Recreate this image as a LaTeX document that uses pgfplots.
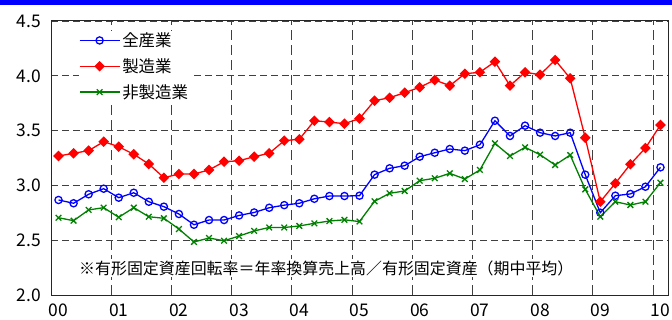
\documentclass[border=0pt]{standalone}
\usepackage{fontspec}
\setmainfont{Noto Sans CJK JP}
\usepackage{pgfplots}
\pgfplotsset{compat=1.18}
\definecolor{cblue}{RGB}{0,0,255}
\definecolor{cred}{RGB}{255,0,0}
\definecolor{cgreen}{RGB}{0,128,0}
\begin{document}
\begin{tikzpicture}
\path[use as bounding box] (0bp,0bp) rectangle (672bp,320bp);
\fill[cblue] (0bp,315bp) rectangle (672bp,320bp);
\begin{axis}[
  at={(51bp,25bp)}, anchor=south west,
  width=617bp, height=274bp, scale only axis,
  xmin=-0.5, xmax=40.5, ymin=2, ymax=4.5,
  xtick={0,4,...,40},
  xticklabels={00,01,02,03,04,05,06,07,08,09,10},
  minor xtick={3.5,7.5,...,39.5},
  ytick={2,2.5,...,4.5},
  /pgf/number format/assume math mode=true,
  yticklabel style={xshift=-6.5bp, /pgf/number format/.cd, fixed, fixed zerofill, precision=1},
  ymajorgrids, xminorgrids,
  major grid style={black!75, line width=0.8bp, dash pattern=on 7bp off 4bp},
  minor grid style={black!75, line width=0.8bp, dash pattern=on 10bp off 5bp},
  major tick length=0pt, minor tick length=0pt,
  axis line style={black!85, line width=1bp},
  tick label style={font=\fontsize{17.5}{20}\selectfont},
  xticklabel style={yshift=-5bp},
  legend style={at={(0.045,0.965)}, anchor=north west, draw=none, fill=white,
    inner sep=0pt, font=\fontsize{16.5}{19}\selectfont, row sep=6.5bp},
  legend cell align=left,
  legend image code/.code={\draw[mark repeat=2,mark phase=2,#1] plot coordinates {(0bp,0bp)(20bp,0bp)(40bp,0bp)};},
]
\addplot[cblue, line width=1.3bp, mark=o, mark size=3.6bp, mark options={fill=white, solid, line width=1.3bp}]
coordinates {(0,2.867)(1,2.837)(2,2.919)(3,2.970)(4,2.888)(5,2.933)(6,2.851)(7,2.806)(8,2.739)(9,2.641)
(10,2.684)(11,2.684)(12,2.726)(13,2.753)(14,2.796)(15,2.820)(16,2.837)(17,2.878)(18,2.903)(19,2.903)
(20,2.906)(21,3.098)(22,3.156)(23,3.180)(24,3.262)(25,3.298)(26,3.332)(27,3.317)(28,3.371)(29,3.590)
(30,3.451)(31,3.545)(32,3.481)(33,3.451)(34,3.481)(35,3.098)(36,2.751)(37,2.906)(38,2.922)(39,2.988)(40,3.165)};
\addlegendentry{全産業}
\addplot[cred, line width=1.3bp, mark=square*, mark size=3.1bp, mark options={solid, rotate=45}]
coordinates {(0,3.268)(1,3.293)(2,3.317)(3,3.399)(4,3.353)(5,3.284)(6,3.195)(7,3.070)(8,3.104)(9,3.104)
(10,3.141)(11,3.216)(12,3.225)(13,3.262)(14,3.293)(15,3.408)(16,3.421)(17,3.590)(18,3.578)(19,3.563)
(20,3.610)(21,3.773)(22,3.800)(23,3.846)(24,3.895)(25,3.962)(26,3.910)(27,4.019)(28,4.032)(29,4.129)
(30,3.910)(31,4.032)(32,4.010)(33,4.144)(34,3.977)(35,3.435)(36,2.851)(37,3.019)(38,3.193)(39,3.341)(40,3.551)};
\addlegendentry{製造業}
\addplot[cgreen, line width=1.3bp, mark=x, mark size=4bp, mark options={solid, line width=1.3bp}]
coordinates {(0,2.705)(1,2.678)(2,2.776)(3,2.797)(4,2.709)(5,2.797)(6,2.714)(7,2.700)(8,2.602)(9,2.484)
(10,2.520)(11,2.495)(12,2.538)(13,2.585)(14,2.616)(15,2.616)(16,2.630)(17,2.654)(18,2.675)(19,2.686)
(20,2.670)(21,2.855)(22,2.928)(23,2.949)(24,3.043)(25,3.065)(26,3.110)(27,3.058)(28,3.141)(29,3.384)
(30,3.268)(31,3.347)(32,3.280)(33,3.186)(34,3.277)(35,2.964)(36,2.715)(37,2.851)(38,2.821)(39,2.851)(40,3.025)};
\addlegendentry{非製造業}
\node[anchor=west, fill=white, inner sep=1bp, font=\fontsize{16}{19}\selectfont] at (rel axis cs:0.0438,0.0985) {※有形固定資産回転率＝年率換算売上高／有形固定資産（期中平均）};
\end{axis}
\end{tikzpicture}
\end{document}
